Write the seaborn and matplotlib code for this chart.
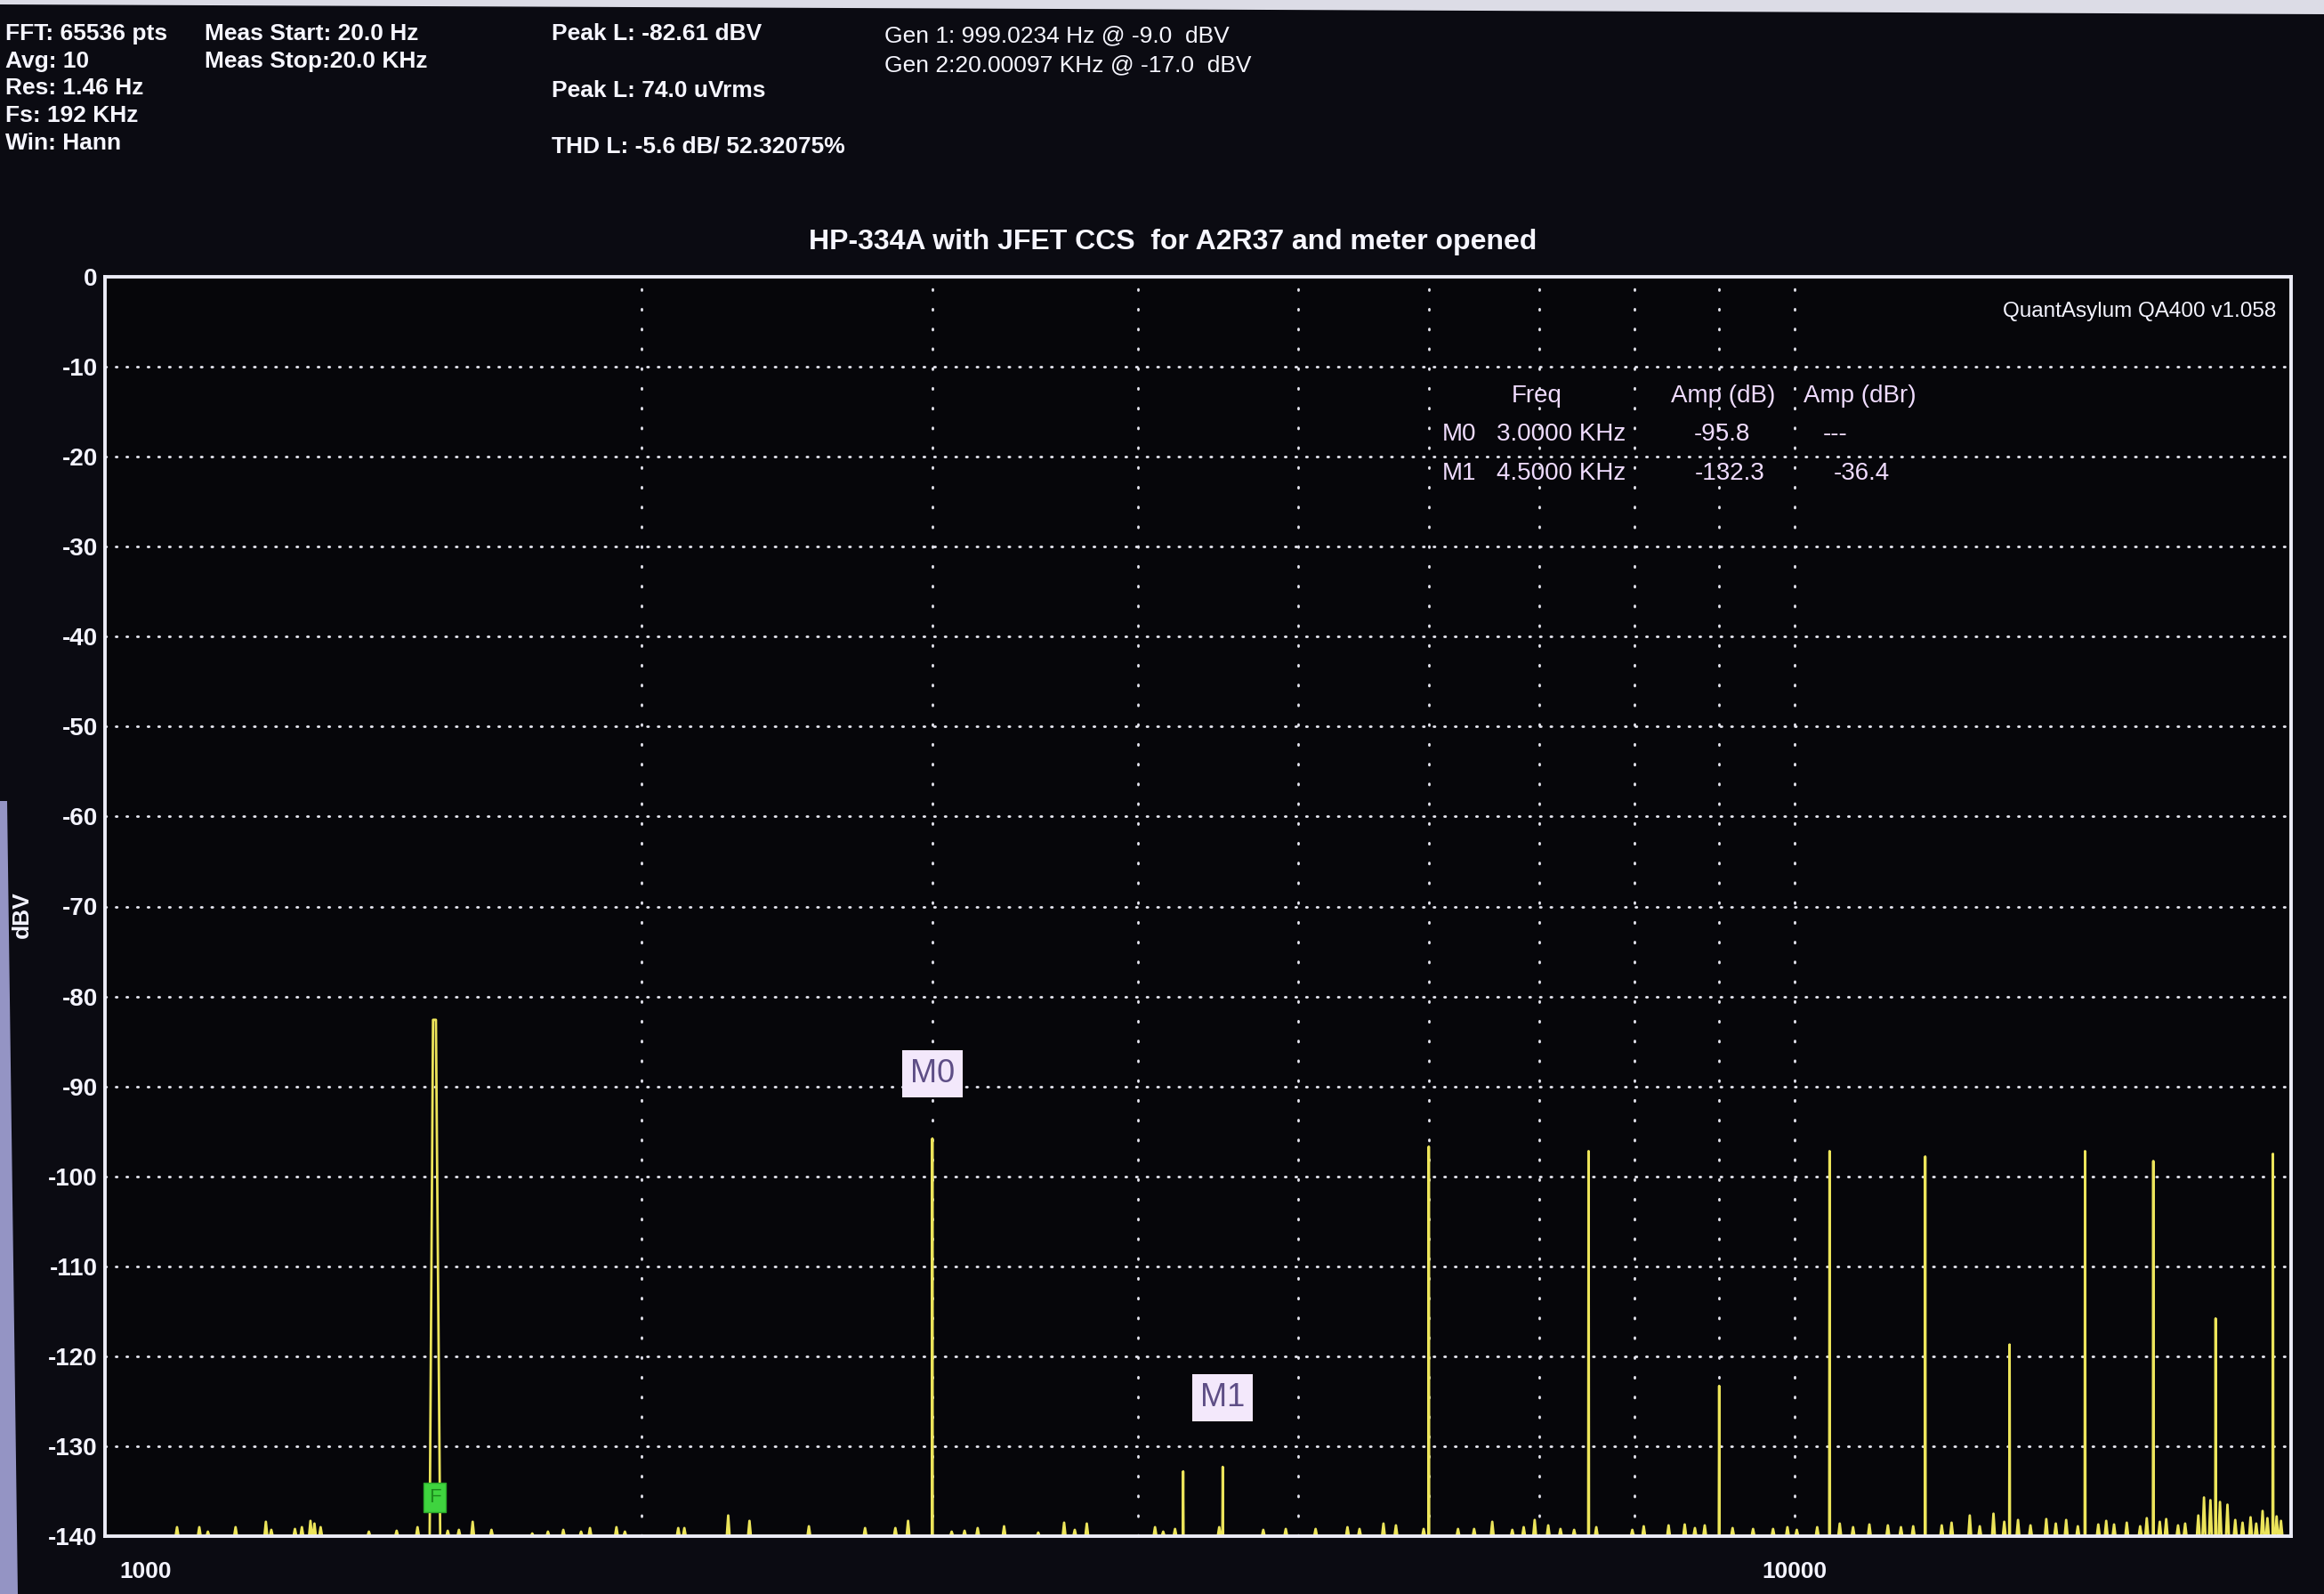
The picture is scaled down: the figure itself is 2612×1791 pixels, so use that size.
import pandas as pd
import matplotlib
matplotlib.use('Agg')
import matplotlib.pyplot as plt
import seaborn as sns
from matplotlib.patches import Polygon

# harmonic peaks (Hz, dBV)
peak_freq = [3000, 4258, 4500, 6000, 7500, 9000, 10500, 12000, 13500, 15000, 16500, 18000, 19500]
peak_db = [-95.8, -132.8, -132.3, -96.7, -97.2, -123.3, -97.2, -97.8, -118.7, -97.2, -98.3, -115.8, -97.5]

# fundamental, shows as two close strokes
fund_freq = [1487, 1494, 1500, 1509]
fund_db = [-140, -82.6, -82.6, -140]

# small spikes on the noise floor
noise_freq = [1045, 1078, 1091, 1134, 1183, 1192, 1232, 1244, 1259, 1266, 1277, 1366, 1420, 1462,
              1525, 1549, 1579, 1621, 1716, 1754, 1792, 1837, 1860, 1930, 1953, 2104, 2122, 2256,
              2324, 2525, 2731, 2849, 2900, 3082, 3138, 3196, 3316, 3478, 3606, 3660, 3722, 4094,
              4141, 4210, 4478, 4762, 4914, 5123, 5356, 5447, 5632, 5731, 5957, 6392, 6556, 6742,
              6956, 7089, 7211, 7581, 7972, 8386, 8577, 8820, 9170, 9436, 9703, 10030, 10320, 10850,
              11390, 11800, 12280, 12770, 13200, 13660, 14210, 14610, 15280, 15620, 16350, 16800,
              17080, 17570, 17710, 17870, 18110, 18300, 18690, 19220, 19600, 19720,
              6250, 6850, 7350, 8100, 8700, 9900, 10650, 11100, 11600, 12450, 12950, 13400,
              13900, 14400, 14850, 15450, 15900, 16200, 16650, 17250, 18500, 18900, 19050, 19350]
noise_db = [-139.0, -139.0, -139.5, -139.0, -138.4, -139.3, -139.2, -139.0, -138.3, -138.6, -139.0,
            -139.5, -139.4, -139.0, -139.4, -139.3, -138.4, -139.3, -139.7, -139.5, -139.3, -139.5,
            -139.1, -139.0, -139.5, -139.1, -139.1, -137.7, -138.3, -138.9, -139.1, -139.1, -138.3,
            -139.5, -139.4, -139.1, -138.9, -139.6, -138.5, -139.3, -138.6, -139.0, -139.5, -139.2,
            -139.0, -139.3, -139.2, -139.2, -139.0, -139.2, -138.6, -138.8, -139.2, -139.2, -138.4,
            -139.3, -138.2, -138.8, -139.2, -139.0, -139.3, -138.8, -138.7, -138.8, -139.1, -139.2,
            -139.2, -139.3, -139.0, -139.0, -138.8, -138.9, -138.8, -137.7, -137.5, -138.2, -138.1,
            -138.2, -138.7, -138.7, -138.0, -138.1, -138.8, -137.7, -135.7, -136.0, -136.2, -136.5,
            -138.5, -137.2, -137.8, -138.3,
            -139.2, -139.0, -139.3, -138.9, -139.1, -139.0, -138.6, -138.7, -139.0, -138.5, -138.9,
            -138.4, -138.8, -138.6, -138.9, -138.3, -138.5, -138.9, -138.4, -138.6, -138.2, -137.9,
            -138.6, -138.0]

y_ticks = list(range(0, -141, -10))
x_ticks = [1000, 10000]
x_tick_labels = ['1000', '10000']
grid_freq = [2000, 3000, 4000, 5000, 6000, 7000, 8000, 9000, 10000]

header = [
    (6, 38, 'FFT: 65536 pts', 'bold'), (6, 69, 'Avg: 10', 'bold'), (6, 99, 'Res: 1.46 Hz', 'bold'),
    (6, 130, 'Fs: 192 KHz', 'bold'), (6, 161, 'Win: Hann', 'bold'),
    (230, 38, 'Meas Start: 20.0 Hz', 'bold'), (230, 69, 'Meas Stop:20.0 KHz', 'bold'),
    (620, 38, 'Peak L: -82.61 dBV', 'bold'), (620, 102, 'Peak L: 74.0 uVrms', 'bold'),
    (620, 164, 'THD L: -5.6 dB/ 52.32075%', 'bold'),
    (994, 40, 'Gen 1: 999.0234 Hz @ -9.0  dBV', 'normal'),
    (994, 73, 'Gen 2:20.00097 KHz @ -17.0  dBV', 'normal'),
]

table = [
    (1727, 445, 'Freq'), (1937, 445, 'Amp (dB)'), (2090, 445, 'Amp (dBr)'),
    (1640, 488, 'M0'), (1755, 488, '3.0000 KHz'), (1935, 488, '-95.8'), (2063, 488, '---'),
    (1640, 532, 'M1'), (1755, 532, '4.5000 KHz'), (1944, 532, '-132.3'), (2092, 532, '-36.4'),
]

# build the trace as narrow spikes on a -140 floor
pts = []
for f, d in zip(peak_freq, peak_db):
    pts += [(f * 0.9995, -140), (f, d), (f * 1.0005, -140)]
for f, d in zip(noise_freq, noise_db):
    pts += [(f * 0.998, -140), (f, d), (f * 1.002, -140)]
pts += list(zip(fund_freq, fund_db))
trace = pd.DataFrame(sorted(pts), columns=['freq', 'dbv'])

W, H = 2612, 1791
sns.set_theme(style='dark', rc={'axes.facecolor': '#06060a', 'figure.facecolor': '#0b0b12'})
plt.rcParams['font.family'] = ['Liberation Sans', 'DejaVu Sans']

fig = plt.figure(figsize=(W / 100, H / 100), dpi=100)
ax = fig.add_axes([118 / W, 1 - 1726 / H, 2457 / W, 1415 / H])

grid_kw = dict(color='#e6e6f0', lw=2.0, dash_capstyle='round', zorder=1)
for v in y_ticks[1:-1]:
    ax.axhline(v, ls=(0, (0.5, 3.8)), **grid_kw)
for f in grid_freq:
    ax.axvline(f, ls=(0, (0.5, 7.5)), **grid_kw)

sns.lineplot(data=trace, x='freq', y='dbv', sort=False, estimator=None,
             color='#ece45a', lw=2.0, ax=ax, zorder=3)

ax.set_xscale('log')
ax.set_xlim(945, 20000)
ax.set_ylim(-140, 0)
ax.set_xticks(x_ticks)
ax.set_xticklabels(x_tick_labels)
ax.set_xticks([], minor=True)
ax.set_yticks(y_ticks)
ax.set_yticklabels([str(v) for v in y_ticks])
ax.tick_params(axis='both', length=0, colors='#f4f4ff')
ax.tick_params(axis='y', pad=6, labelsize=20)
ax.tick_params(axis='x', pad=20, labelsize=19)
for lab in ax.get_xticklabels() + ax.get_yticklabels():
    lab.set_fontweight('bold')
ax.set_xlabel('')
ax.set_ylabel('')
ax.grid(False)
for s in ax.spines.values():
    s.set_visible(True)
    s.set_color('#ececf6')
    s.set_linewidth(2.8)
    s.set_zorder(5)

# markers
box_kw = dict(boxstyle='square,pad=0.25', facecolor='#f3e8fb', edgecolor='none')
ax.text(3000, -88.6, 'M0', ha='center', va='center', fontsize=26, color='#5e4e86',
        bbox=box_kw, zorder=6)
ax.text(4500, -124.6, 'M1', ha='center', va='center', fontsize=26, color='#5e4e86',
        bbox=box_kw, zorder=6)
ax.text(1498, -135.7, 'F', ha='center', va='center', fontsize=16, color='#1d8a1d',
        bbox=dict(boxstyle='square,pad=0.25', facecolor='#3fd43f', edgecolor='#2aa82a'), zorder=6)

fig.text(2558 / W, 1 - 350 / H, 'QuantAsylum QA400 v1.058', ha='right', va='center',
         fontsize=17.5, color='#f4f4ff')

for x, y, s in table:
    fig.text(x / W, 1 - y / H, s, ha='center', va='center', fontsize=20, color='#f0dcff')

for x, y, s, w in header:
    fig.text(x / W, 1 - y / H, s, ha='left', va='center', fontsize=19, fontweight=w,
             color='#f6f6ff')

fig.text(1318 / W, 1 - 272 / H, 'HP-334A with JFET CCS  for A2R37 and meter opened',
         ha='center', va='center', fontsize=23, fontweight='bold', color='#f6f6ff')
fig.text(25 / W, 1 - 1028 / H, 'dBV', ha='center', va='center', rotation=90, fontsize=19,
         fontweight='bold', color='#f4f4ff')

# bits of the monitor edge caught in the photo
fig.add_artist(Polygon([(0, 1), (1, 1), (1, 1 - 16 / H), (0, 1 - 5 / H)], closed=True,
                       transform=fig.transFigure, facecolor='#dcdce6', edgecolor='none'))
fig.add_artist(Polygon([(0, 1 - 900 / H), (8 / W, 1 - 900 / H), (20 / W, 0), (0, 0)], closed=True,
                       transform=fig.transFigure, facecolor='#9494c4', edgecolor='none'))

fig.savefig('out.png', dpi=100)
